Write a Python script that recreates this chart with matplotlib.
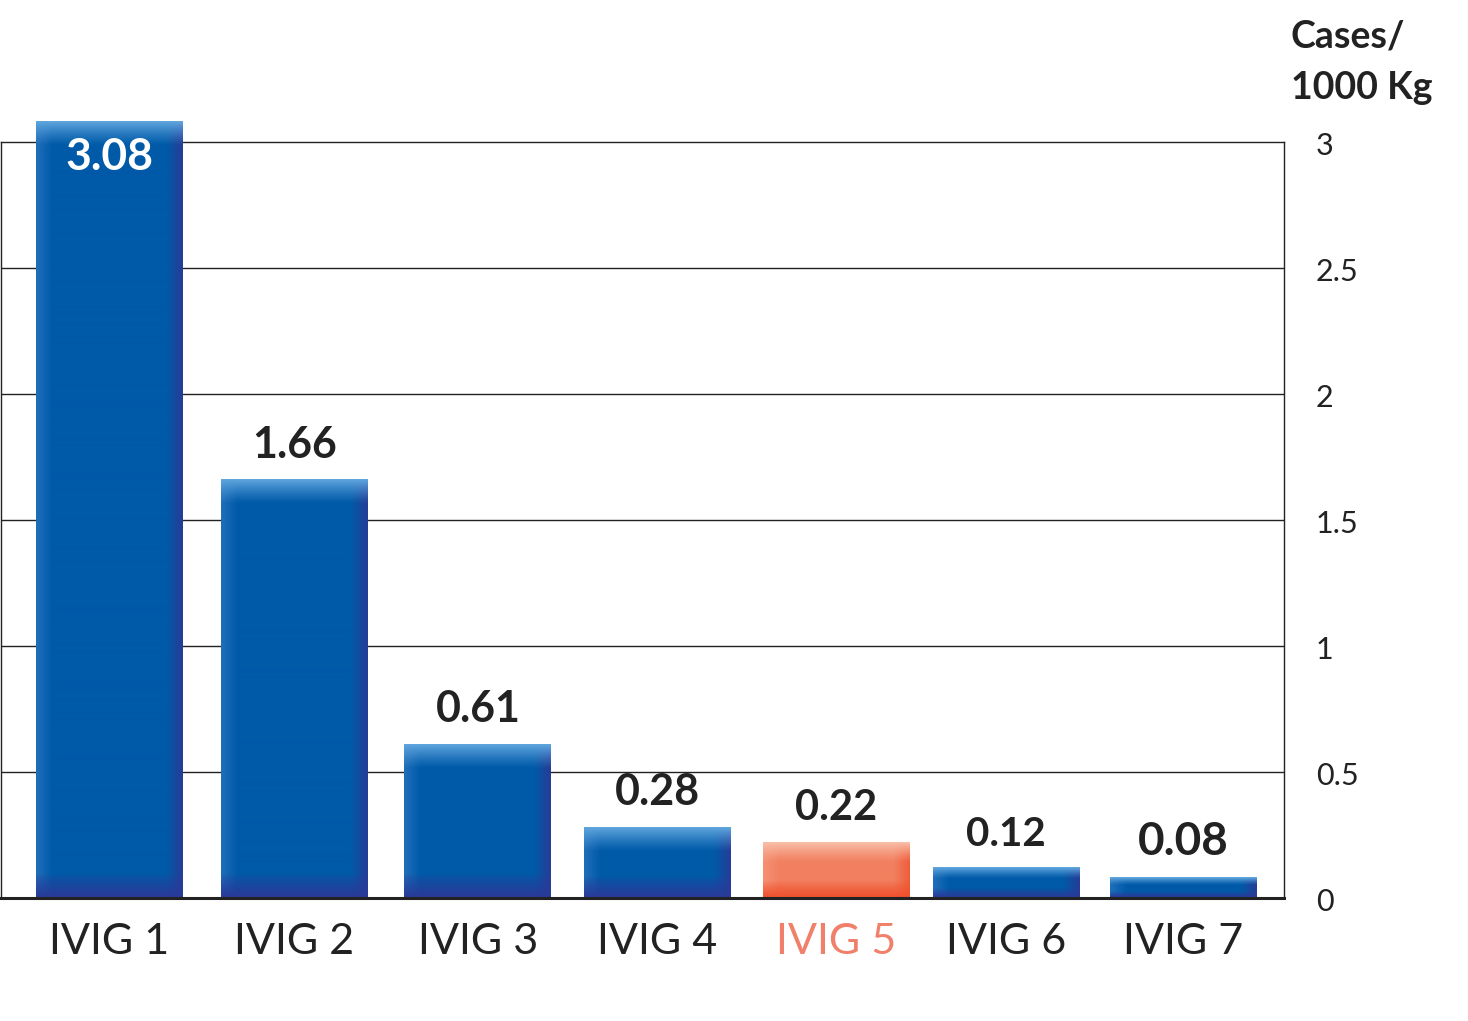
import numpy as np
import matplotlib
matplotlib.use("Agg")
import matplotlib.pyplot as plt

categories = ["IVIG 1", "IVIG 2", "IVIG 3", "IVIG 4", "IVIG 5", "IVIG 6", "IVIG 7"]
values = [3.08, 1.66, 0.61, 0.28, 0.22, 0.12, 0.08]
value_labels = ["3.08", "1.66", "0.61", "0.28", "0.22", "0.12", "0.08"]
highlight = [False, False, False, False, True, False, False]
yticks = [0, 0.5, 1, 1.5, 2, 2.5, 3]
ytick_labels = ["0", "0.5", "1", "1.5", "2", "2.5", "3"]

# layout: bar slot positions (in slot units)
slot_pos = [0.0, 1.036, 2.06, 3.06, 4.06, 5.01, 6.0]

FONT = ["Lato", "Open Sans", "DejaVu Sans"]
W, H = 1468, 1021
fig = plt.figure(figsize=(W / 100, H / 100), dpi=100)
ax_left, ax_right, ax_top, ax_bot = 1, 1284, 142, 898
ax = fig.add_axes([ax_left / W, (H - ax_bot) / H, (ax_right - ax_left) / W, (ax_bot - ax_top) / H])

x = np.array(slot_pos)
xlim = (-0.603, 6.561)
ax.set_xlim(*xlim)
ax.set_ylim(0, 3)
bar_w = 0.82

px_per_x = (ax_right - ax_left) / (xlim[1] - xlim[0])
px_per_y = (ax_bot - ax_top) / 3.0


def bar_image(hpx, wpx, body, top, left, right, bottom):
    hpx = max(int(round(hpx)), 2)
    wpx = max(int(round(wpx)), 2)
    yy = np.arange(hpx)[:, None] * np.ones((1, wpx))
    xx = np.ones((hpx, 1)) * np.arange(wpx)[None, :]
    img = np.ones((hpx, wpx, 3)) * np.array(body)
    band = 24.0
    wl = np.clip(1 - xx / 16.0, 0, 1)[..., None] * 0.8
    img = img * (1 - wl) + np.array(left) * wl
    wr = np.clip(1 - (wpx - 1 - xx) / 16.0, 0, 1)[..., None] * 0.9
    img = img * (1 - wr) + np.array(right) * wr
    bb = min(band, hpx * 0.3)
    wb = np.clip(1 - (hpx - 1 - yy) / bb, 0, 1)[..., None] ** 0.8
    img = img * (1 - wb) + np.array(bottom) * wb
    tb = min(band, hpx * 0.35)
    wt = np.clip(1 - yy / tb, 0, 1)[..., None] ** 1.2
    img = img * (1 - wt) + np.array(top) * wt
    return np.clip(img, 0, 1)


blue = dict(body=(0 / 255, 90 / 255, 168 / 255), top=(95 / 255, 165 / 255, 222 / 255),
            left=(40 / 255, 115 / 255, 190 / 255), right=(42 / 255, 58 / 255, 150 / 255),
            bottom=(42 / 255, 58 / 255, 152 / 255))
orange = dict(body=(242 / 255, 128 / 255, 96 / 255), top=(249 / 255, 190 / 255, 168 / 255),
              left=(245 / 255, 150 / 255, 120 / 255), right=(238 / 255, 90 / 255, 55 / 255),
              bottom=(240 / 255, 80 / 255, 45 / 255))

for xi, v, hl in zip(x, values, highlight):
    c = orange if hl else blue
    img = bar_image(v * px_per_y, bar_w * px_per_x, **c)
    im = ax.imshow(img, extent=[xi - bar_w / 2, xi + bar_w / 2, 0, v], aspect="auto",
                   interpolation="bilinear", zorder=3)
    im.set_clip_on(False)

for t in yticks[1:-1]:
    ax.axhline(t, color="#222222", lw=1.0, zorder=1)

for s in ["top", "right", "left"]:
    ax.spines[s].set_linewidth(1.0)
    ax.spines[s].set_color("#222222")
    ax.spines[s].set_zorder(1)
ax.spines["bottom"].set_linewidth(2.2)
ax.spines["bottom"].set_color("#222222")
ax.spines["bottom"].set_zorder(5)

ax.set_xticks([])
ax.set_yticks([])

label_sizes = [32, 31, 31, 31, 30, 29, 33]
for xi, v, lab, fs in zip(x, values, value_labels, label_sizes):
    if v > 2.5:
        ax.text(xi, v - 0.14, lab, ha="center", va="center", color="white",
                fontsize=fs, fontweight="bold", family=FONT, zorder=6)
    else:
        ax.text(xi, v + 0.06, lab, ha="center", va="bottom", color="#222222",
                fontsize=fs, fontweight="bold", family=FONT, zorder=6)

for xi, cat, hl in zip(x, categories, highlight):
    ax.text(xi, -0.10, cat, ha="center", va="top", color="#f0806a" if hl else "#222222",
            fontsize=31, fontweight="normal", family=FONT, transform=ax.transData, clip_on=False)

for t, lab in zip(yticks, ytick_labels):
    ax.text(1.0 + 32 / (ax_right - ax_left), t - 0.015, lab, ha="left", va="center",
            color="#222222", fontsize=22, fontweight="normal", family=FONT,
            transform=ax.get_yaxis_transform(), clip_on=False)

fig.text(1291 / W, 1 - 20 / H, "Cases/\n1000 Kg", ha="left", va="top", fontsize=27,
         fontweight="bold", family=FONT, color="#222222", linespacing=1.6)

fig.savefig("out.png", dpi=100, facecolor="white")
